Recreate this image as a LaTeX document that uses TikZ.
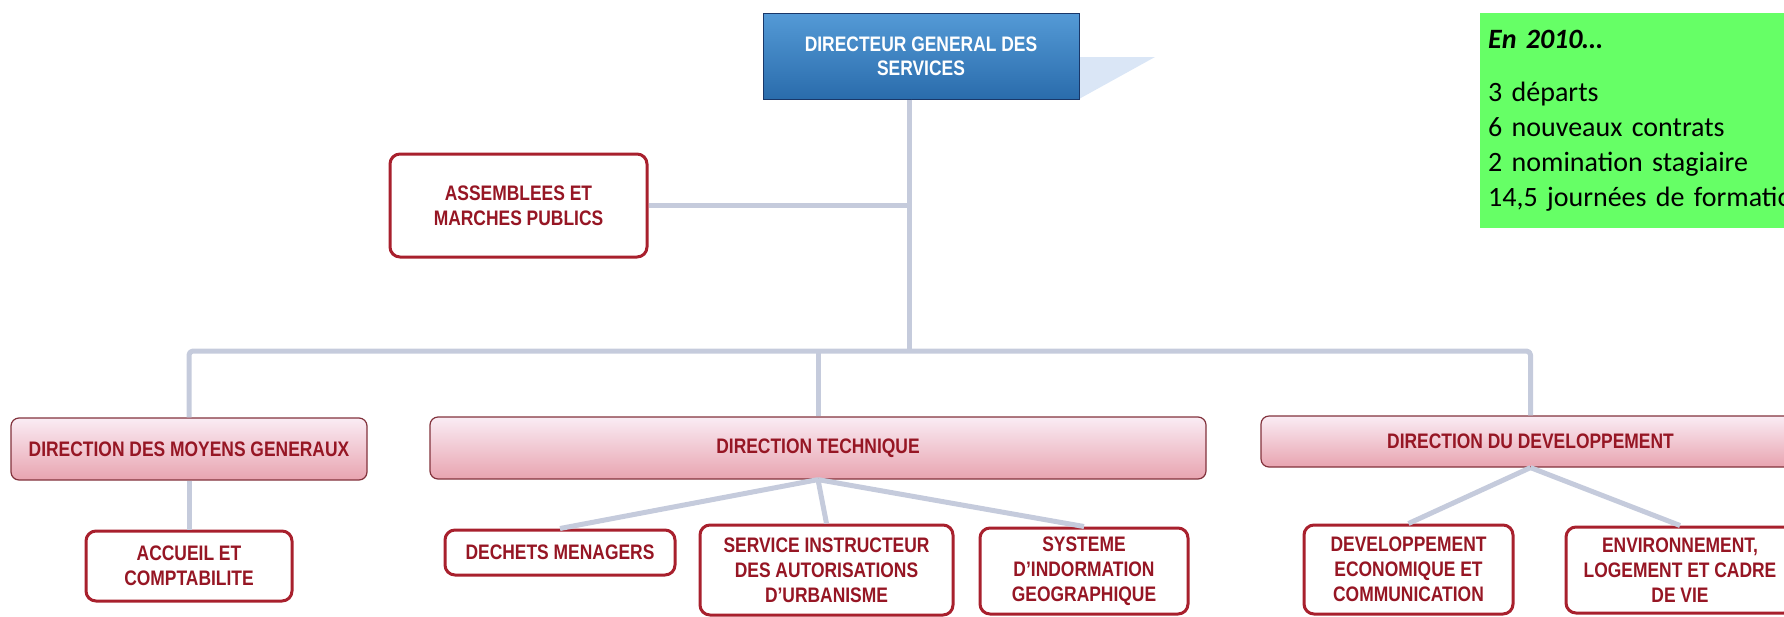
\documentclass[tikz,border=0pt]{standalone}
\usepackage{fontspec}
\usepackage{xcolor}
\usepackage{tikz}
\setmainfont{Liberation Sans}
\newfontfamily\orgfont[FakeStretch=0.83]{Liberation Sans}
\newfontfamily\notefont{Carlito}
\definecolor{linkgray}{RGB}{197,203,220}
\definecolor{orgred}{RGB}{150,22,36}
\definecolor{boxred}{RGB}{168,32,45}
\definecolor{pinktop}{RGB}{250,236,244}
\definecolor{pinkbot}{RGB}{232,164,176}
\definecolor{pinkedge}{RGB}{130,50,60}
\definecolor{bluetop}{RGB}{84,154,214}
\definecolor{bluebot}{RGB}{42,108,172}
\definecolor{blueedge}{RGB}{25,55,105}
\definecolor{bluefade}{RGB}{218,230,246}
\definecolor{notegreen}{RGB}{102,255,102}

\begin{document}
\begin{tikzpicture}[x=1pt,y=-1pt,
		link/.style={draw=linkgray, line width=5pt, line join=round},
		chief/.style={draw=blueedge, line width=1pt, top color=bluetop, bottom color=bluebot,
			text=white, align=center, inner sep=0pt, font=\orgfont\bfseries\fontsize{21}{24}\selectfont},
		direction/.style={draw=pinkedge, line width=1.2pt, rounded corners=8pt, top color=pinktop,
			bottom color=pinkbot, text=orgred, align=center, inner sep=0pt,
			font=\orgfont\bfseries\fontsize{21}{25}\selectfont},
		service/.style={draw=boxred, line width=3pt, rounded corners=10pt, fill=white,
			text=orgred, align=center, inner sep=0pt, font=\orgfont\bfseries\fontsize{21}{25}\selectfont},
		note/.style={fill=notegreen, anchor=north west, align=left, text width=400pt,
			inner xsep=8pt, inner ysep=17pt, font=\notefont\fontsize{28}{35}\selectfont}
	]
	\useasboundingbox (0,0) rectangle (1784,616);
	
	% top of the chart
	\fill [bluefade] (1079,57) -- (1155,57) -- (1079,99) -- cycle;
	\node [chief, minimum width=316pt, minimum height=86pt] (dgs) at (921,56) {DIRECTEUR GENERAL DES\\SERVICES};
	\node [service, minimum width=257pt, minimum height=103pt] (asm) at (518.5,205.5) {ASSEMBLEES ET\\MARCHES PUBLICS};
	\coordinate (trunk) at (909,351);
	
	% directions
	\node [direction, minimum width=356pt, minimum height=62pt] (dmg) at (189,449) {DIRECTION DES MOYENS GENERAUX};
	\node [direction, minimum width=776pt, minimum height=62pt] (dt) at (818,448) {DIRECTION TECHNIQUE};
	\node [direction, minimum width=539pt, minimum height=51pt] (dd) at (1530.5,441.5) {DIRECTION DU DEVELOPPEMENT};
	
	% services
	\node [service, minimum width=206pt, minimum height=70pt] (acc) at (189,566) {ACCUEIL ET\\COMPTABILITE};
	\node [service, minimum width=230pt, minimum height=45pt] (dech) at (560,552.5) {DECHETS MENAGERS};
	\node [service, minimum width=253pt, minimum height=90pt] (svc) at (826.5,570) {SERVICE INSTRUCTEUR\\DES AUTORISATIONS\\D’URBANISME};
	\node [service, minimum width=208pt, minimum height=86pt] (sig) at (1084,571) {SYSTEME\\D’INDORMATION\\GEOGRAPHIQUE};
	\node [service, minimum width=209pt, minimum height=89pt] (dev) at (1408.5,569.5) {DEVELOPPEMENT\\ECONOMIQUE ET\\COMMUNICATION};
	\node [service, minimum width=228pt, minimum height=86pt] (env) at (1680,570) {ENVIRONNEMENT,\\LOGEMENT ET CADRE\\DE VIE};
	
	\draw [link] ([xshift=-12pt]dgs.south) -- (trunk);
	\draw [link] (asm.east) -- (asm.east -| trunk);
	\draw [link, rounded corners=4pt] (dmg.north) |- (trunk) -| (dd.north);
	\draw [link] (dt.north) -- (dt.north |- trunk);
	\draw [link] (dmg.south) -- (acc.north);
	\draw [link] (dt.south) -- (dech.north);
	\draw [link] (dt.south) -- (svc.north);
	\draw [link] (dt.south) -- (sig.north);
	\draw [link] (dd.south) -- (dev.north);
	\draw [link] (dd.south) -- (env.north);
	
	% yearly figures
	\node [note] (stats) at (1480,13) {\textbf{\textit{En 2010…}}\\[18pt]
		3 départs\\
		6 nouveaux contrats\\
		2 nomination stagiaire\\
		14,5 journées de formation};
\end{tikzpicture}
\end{document}
